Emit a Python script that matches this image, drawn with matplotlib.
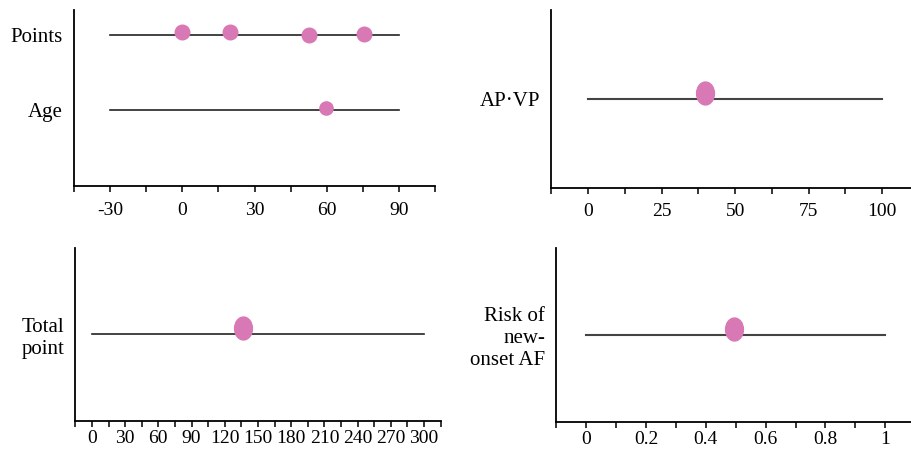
import matplotlib.pyplot as plt
from matplotlib.markers import MarkerStyle
from matplotlib.transforms import Affine2D
from matplotlib.ticker import MultipleLocator

plt.rcParams['font.family'] = ['Liberation Serif', 'DejaVu Serif']
plt.rcParams['axes.unicode_minus'] = False

PINK = '#d878b4'

# panel A: Points / Age
a_rows = ['Points', 'Age']
a_row_y = [2, 1]
a_range = (-30, 90)
a_points_x = [0, 20, 52.5, 75.3]
a_points_y = [2.04, 2.04, 2.0, 2.01]
a_age_x = [59.6]
a_age_y = [1.03]
a_ticks = [-30, 0, 30, 60, 90]
a_ticklabels = ['-30', '0', '30', '60', '90']

# panel B: AP·VP
b_label = 'AP·VP'
b_range = (0, 100)
b_x = [39.6]
b_ticks = [0, 25, 50, 75, 100]
b_ticklabels = ['0', '25', '50', '75', '100']

# panel C: total point
c_label = 'Total\npoint'
c_range = (0, 300)
c_x = [136.7]
c_ticks = list(range(0, 301, 30))
c_ticklabels = [str(t) for t in c_ticks]

# panel D: risk
d_label = 'Risk of\nnew-\nonset AF'
d_range = (0, 1)
d_x = [0.493]
d_ticks = [0, 0.2, 0.4, 0.6, 0.8, 1]
d_ticklabels = ['0', '0.2', '0.4', '0.6', '0.8', '1']

W, H = 911, 451
fig = plt.figure(figsize=(W / 100, H / 100), dpi=100)


def make_ax(x0, x1, ytop, ybot):
    return fig.add_axes([x0 / W, 1 - ybot / H, (x1 - x0) / W, (ybot - ytop) / H])


def style(ax, minor, ticks, labels, pad):
    for s in ['top', 'right']:
        ax.spines[s].set_visible(False)
    for s in ['left', 'bottom']:
        ax.spines[s].set_linewidth(1.3)
    ax.set_xticks(ticks)
    ax.set_xticklabels(labels)
    ax.xaxis.set_minor_locator(MultipleLocator(minor))
    ax.tick_params(axis='x', which='both', direction='out', length=4.5, width=1.1, pad=pad, labelsize=14)
    ax.tick_params(axis='y', length=0, pad=8, labelsize=15)


ellipse = MarkerStyle('o', transform=Affine2D().scale(0.78, 1.0))

# A
ax = make_ax(74, 435, 10, 186)
ax.set_xlim(-45, 105)
ax.set_ylim(0, 2.33)
for y in a_row_y:
    ax.plot(a_range, [y, y], color='#222222', lw=1.2)
ax.plot(a_points_x, a_points_y, 'o', color=PINK, ms=10.5, zorder=3)
ax.plot(a_age_x, a_age_y, 'o', color=PINK, ms=9.5, zorder=3)
ax.set_yticks(a_row_y)
ax.set_yticklabels(a_rows)
style(ax, 15, a_ticks, a_ticklabels, 7)

# B
ax = make_ax(551.3, 911, 10, 188)
ax.set_xlim(-12.5, 109.8)
ax.set_ylim(0, 2)
ax.plot(b_range, [1, 1], color='#444444', lw=1.5)
ax.plot(b_x, [1.07], marker=ellipse, color=PINK, ms=16.5, ls='none', zorder=3)
ax.set_yticks([1])
ax.set_yticklabels([b_label])
style(ax, 12.5, b_ticks, b_ticklabels, 6)

# C
ax = make_ax(75.3, 440.7, 248, 420.7)
ax.set_xlim(-15, 315)
ax.set_ylim(0, 2)
ax.plot(c_range, [1, 1], color='#222222', lw=1.2)
ax.plot(c_x, [1.07], marker=ellipse, color=PINK, ms=16.5, ls='none', zorder=3)
ax.set_yticks([1])
ax.set_yticklabels([c_label])
style(ax, 15, c_ticks, c_ticklabels, 2)
for t in ax.get_yticklabels():
    t.set_multialignment('center')

# D
ax = make_ax(556.3, 911, 248, 421.7)
ax.set_xlim(-0.1, 1.086)
ax.set_ylim(0, 2)
ax.plot(d_range, [1, 1], color='#444444', lw=1.5)
ax.plot(d_x, [1.07], marker=ellipse, color=PINK, ms=16.5, ls='none', zorder=3)
ax.set_yticks([1])
ax.set_yticklabels([d_label])
style(ax, 0.1, d_ticks, d_ticklabels, 2)
for t in ax.get_yticklabels():
    t.set_multialignment('right')

fig.savefig('out.png', dpi=100)
